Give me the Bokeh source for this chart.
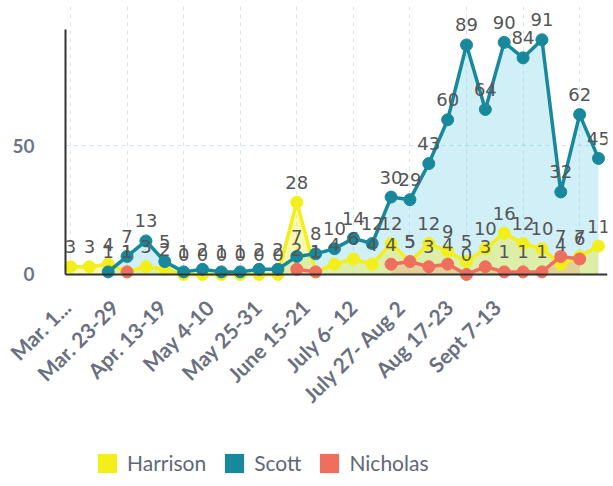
import math
from bokeh.plotting import figure
from bokeh.models import (Range1d, FixedTicker, LinearAxis, Legend, LegendItem, Grid)
from bokeh.core.properties import value
from bokeh.embed import file_html
from bokeh.resources import INLINE

# Weekly counts, one entry per week (None = no value that week)
tick_labels = ["Mar. 1...", "Mar. 23-29", "Apr. 13-19", "May 4-10", "May 25-31",
               "June 15-21", "July 6- 12", "July 27- Aug 2", "Aug 17-23", "Sept 7-13"]
harrison = [3, 3, 4, 1, 3, 2, 0, 0, 0, 0, 0, 0, 28, 1, 4, 6, 4, 12, 5, 12, 9,
            5, 10, 16, 12, 10, 4, 7, 11]
scott = [None, None, 1, 7, 13, 5, 1, 2, 1, 1, 2, 2, 7, 8, 10, 14, 12, 30, 29, 43, 60,
         89, 64, 90, 84, 91, 32, 62, 45]
nicholas = [None, None, None, 1, None, None, None, None, None, None, None, None, 2, 1,
            None, None, None, 4, 5, 3, 4, 0, 3, 1, 1, 1, 7, 6, None]
series_names = ["Harrison", "Scott", "Nicholas"]

weeks = list(range(len(harrison)))
colors = {"Harrison": "#f3ef1b", "Scott": "#18899c", "Nicholas": "#f06e5e"}
fills = {"Harrison": ("#f3ef1b", 0.35), "Scott": ("#58c6e0", 0.28), "Nicholas": ("#f06e5e", 0.22)}
data = {"Harrison": harrison, "Scott": scott, "Nicholas": nicholas}

X_START, X_END = -0.265, 28.477   # extent of the plotted week axis
Y_TOP = 104.3
LABEL_ROW = -11.2                 # value-axis position of the rotated week labels

p = figure(width=613, height=486, output_backend="svg", toolbar_location=None,
           x_range=Range1d(-3.447, X_END), y_range=Range1d(-79.9, Y_TOP),
           x_axis_type=None, min_border_left=5, min_border_right=6,
           min_border_top=5, min_border_bottom=6)
p.outline_line_color = None
p.background_fill_color = "white"

# y axis: only 0 and 50, placed at the start of the week axis
p.yaxis.fixed_location = X_START
p.yaxis.ticker = FixedTicker(ticks=[0, 50])
p.yaxis.bounds = (0, 95)
p.yaxis.axis_line_color = "#333333"
p.yaxis.axis_line_width = 2
p.yaxis.major_tick_line_color = None
p.yaxis.minor_tick_line_color = None
p.yaxis.major_label_standoff = 25
p.yaxis.major_label_text_font = "Lato"
p.yaxis.major_label_text_font_style = "bold"
p.yaxis.major_label_text_font_size = "19px"
p.yaxis.major_label_text_color = "#6b7788"

# x baseline at zero
xaxis = LinearAxis(fixed_location=0, bounds=(X_START, X_END), ticker=FixedTicker(ticks=[]),
                   axis_line_color="#333333", axis_line_width=2,
                   major_tick_line_color=None, minor_tick_line_color=None,
                   major_label_text_alpha=0)
p.add_layout(xaxis, "below")

p.ygrid.ticker = FixedTicker(ticks=[50])
p.ygrid.cross_bounds = (X_START, X_END)
p.ygrid.grid_line_color = "#9fcfe0"
p.ygrid.grid_line_dash = "4 4"
p.ygrid.grid_line_alpha = 0.5

xgrid = Grid(dimension=0, ticker=FixedTicker(ticks=list(range(0, 28, 3))),
             cross_bounds=(0, Y_TOP),
             grid_line_color="#9fcfe0", grid_line_dash="4 4", grid_line_alpha=0.45)
p.add_layout(xgrid)

# week labels every third week, on their own horizontal scale
p.extra_x_ranges = {"lbl": Range1d(-1.276, 11.318)}
p.text(x=list(range(len(tick_labels))), y=[LABEL_ROW] * len(tick_labels), text=tick_labels,
       x_range_name="lbl", angle=math.pi / 4, text_align="right", text_baseline="middle",
       text_font=value("Lato"), text_font_style="bold", text_font_size="21px",
       text_color="#6b7080")


def runs(vals):
    out, seg = [], []
    for i, v in enumerate(vals):
        if v is None:
            if seg:
                out.append(seg)
            seg = []
        else:
            seg.append(i)
    if seg:
        out.append(seg)
    return out


nan = float("nan")
# filled areas
for name in ["Scott", "Harrison", "Nicholas"]:
    vals = data[name]
    fc, fa = fills[name]
    for seg in runs(vals):
        if len(seg) > 1:
            p.varea(x=[weeks[i] for i in seg], y1=0, y2=[vals[i] for i in seg],
                    fill_color=fc, fill_alpha=fa)

# lines, markers and value labels
for name in series_names:
    vals = data[name]
    ys = [nan if v is None else v for v in vals]
    p.line(weeks, ys, line_color=colors[name], line_width=3.5)
    xs = [w for w, v in zip(weeks, vals) if v is not None]
    yv = [v for v in vals if v is not None]
    p.scatter(xs, yv, size=12, fill_color=colors[name], line_color=colors[name])

for name in series_names:
    vals = data[name]
    xs = [w for w, v in zip(weeks, vals) if v is not None]
    yv = [v for v in vals if v is not None]
    p.text(xs, yv, text=[str(v) for v in yv], text_align="center", text_baseline="middle",
           y_offset=-20, text_font=value("DejaVu Sans"), text_font_size="18px",
           text_color="#555555")

# legend swatches (one empty row each, only shown in the legend)
items = []
for name in series_names:
    r = p.quad(left=[nan], right=[nan], top=[nan], bottom=[nan],
               fill_color=colors[name], line_color=None)
    items.append(LegendItem(label=name, renderers=[r]))
legend = Legend(items=items, orientation="horizontal", location=(90, 5),
                border_line_color=None, background_fill_alpha=0, padding=0, margin=0,
                glyph_width=24, glyph_height=24, label_standoff=8, spacing=16,
                label_text_font="Lato", label_text_font_size="21px",
                label_text_color="#5e6878")
p.add_layout(legend)

open("out.html", "w").write(file_html(p, INLINE))
